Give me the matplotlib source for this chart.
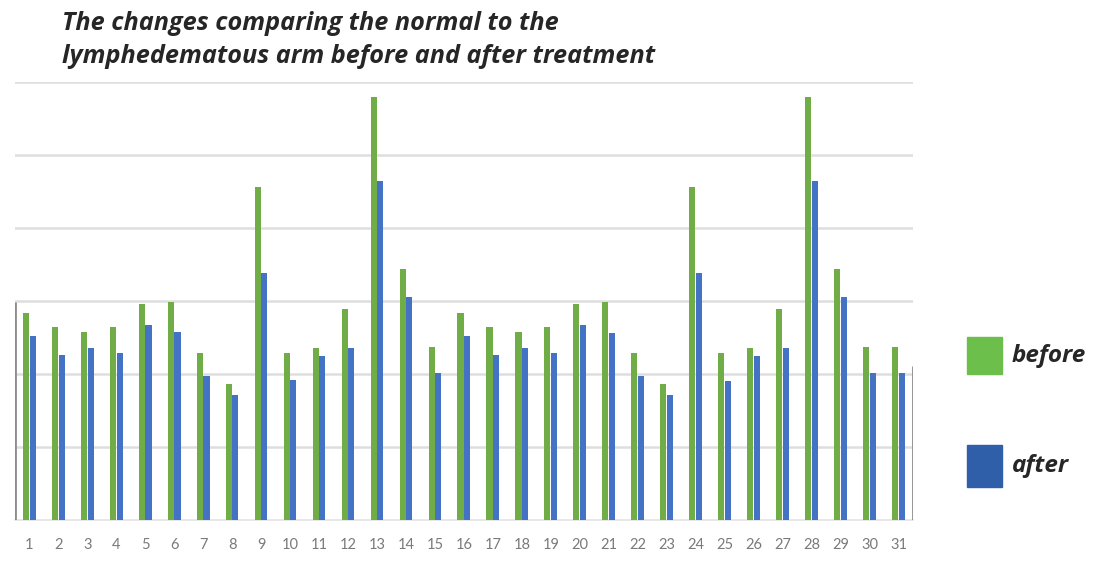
import matplotlib
matplotlib.use("Agg")
import matplotlib.pyplot as plt
from matplotlib.patches import Rectangle
import numpy as np

# ---- data ----
categories = [str(i) for i in range(1, 32)]
before = [2.84, 2.64, 2.58, 2.64, 2.96, 2.99, 2.29, 1.86, 4.56, 2.29,
          2.35, 2.89, 5.79, 3.44, 2.37, 2.83, 2.64, 2.58, 2.64, 2.96,
          2.99, 2.29, 1.86, 4.56, 2.29, 2.35, 2.89, 5.79, 3.44, 2.37, 2.37]
after = [2.52, 2.26, 2.35, 2.29, 2.67, 2.57, 1.97, 1.71, 3.38, 1.92,
         2.25, 2.35, 4.64, 3.06, 2.01, 2.52, 2.26, 2.35, 2.29, 2.67,
         2.56, 1.97, 1.71, 3.38, 1.91, 2.25, 2.35, 4.64, 3.06, 2.01, 2.01]
edge_positions = [0.5, 31.5]
edge_values = [2.99, 2.11]
series_names = ["before", "after"]
title_text = "The changes comparing the normal to the\nlymphedematous arm before and after treatment"

green = "#70ad47"
blue = "#4472c4"
legend_green = "#6cbf4a"
legend_blue = "#2f5fa8"

fig = plt.figure(figsize=(10.94, 5.61), dpi=100)
W, H = 1094, 561
ax = fig.add_axes([15 / W, (H - 520) / H, (913 - 15) / W, (520 - 82) / H])

x = np.arange(1, len(categories) + 1)
bw = 0.21
ax.bar(x - 0.12, before, width=bw, color=green, zorder=3)
ax.bar(x + 0.11, after, width=bw, color=blue, zorder=3)
ax.vlines(edge_positions, 0, edge_values, colors="#8c8c8c", linewidth=2, zorder=3)

ax.set_xlim(0.5, 31.5)
ax.set_ylim(0, 6)
ax.set_yticks([1, 2, 3, 4, 5, 6])
ax.yaxis.grid(True, color="#dedede", linewidth=1.8, zorder=0)
ax.tick_params(axis="y", left=False, labelleft=False)
ax.set_xticks(x)
ax.set_xticklabels(categories, fontsize=10.5, color="#7a7a7a", family="Lato")
ax.tick_params(axis="x", length=0, pad=13)
for s in ["top", "left", "right"]:
    ax.spines[s].set_visible(False)
ax.spines["bottom"].set_color("#e3e3e3")
ax.spines["bottom"].set_linewidth(1.2)

fig.text(62 / W, 1 - 11 / H, title_text, ha="left", va="top", fontsize=18.2,
         fontweight="bold", fontstyle="italic", family="Open Sans", color="#262626",
         linespacing=1.42)

# legend
for (name, col, ytop, ybot) in [(series_names[0], legend_green, 337, 374),
                                (series_names[1], legend_blue, 445, 487)]:
    fig.add_artist(Rectangle((967 / W, 1 - ybot / H), 35 / W, (ybot - ytop) / H,
                             transform=fig.transFigure, color=col))
    fig.text(1012 / W, 1 - ((ytop + ybot) / 2) / H, name, ha="left", va="center",
             fontsize=17.5, fontweight="bold", fontstyle="italic", family="Open Sans",
             color="#262626")

fig.savefig("out.png", dpi=100)
